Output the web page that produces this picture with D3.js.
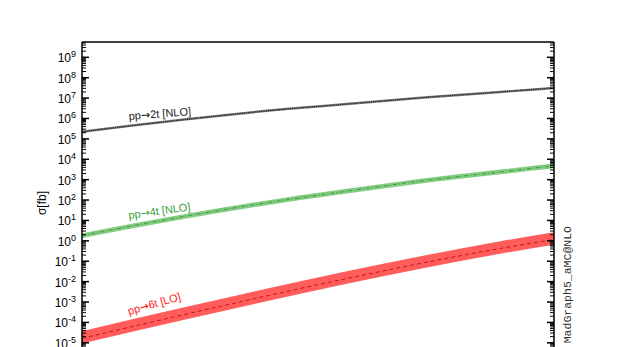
<!DOCTYPE html>
<html>
<head>
<meta charset="utf-8">
<script src="https://cdn.jsdelivr.net/npm/d3@7"></script>
<style>
  body { margin: 0; background: #fff; }
  text { font-family: "Liberation Sans", Arial, sans-serif; }
  text.mono { font-family: "Liberation Mono", "DejaVu Sans Mono", monospace; }
  tspan.arrow { font-family: "DejaVu Sans", sans-serif; }
</style>
</head>
<body>
<svg id="chart" width="634" height="347"></svg>
<script>
// collider energy sqrt(s) in TeV (x axis is off the visible area)
const energies = [8, 14, 20, 33, 50, 75, 100];

// cross sections in fb: central, upper, lower
const xs2t = [2.24e5, 9.1e5, 2.04e6, 5.1e6, 1.07e7, 2.0e7, 3.16e7];
const up2t = [1.15, 1.15, 1.15, 1.15, 1.15, 1.15, 1.15];
const dn2t = [0.87, 0.87, 0.87, 0.87, 0.87, 0.87, 0.87];

const xs4t = [1.82, 16.6, 58, 274, 906, 2400, 4790];
const up4t = [1.3, 1.3, 1.3, 1.3, 1.3, 1.3, 1.3];
const dn4t = [0.76, 0.76, 0.76, 0.76, 0.76, 0.76, 0.76];

const xs6t = [1.66e-5, 2.58e-4, 1.42e-3, 1.42e-2, 8.5e-2, 0.423, 1.18];
const up6t = [2.25, 2.25, 2.25, 2.25, 2.25, 2.25, 2.25];
const dn6t = [0.55, 0.55, 0.55, 0.55, 0.55, 0.55, 0.55];

const exponents = [-5, -4, -3, -2, -1, 0, 1, 2, 3, 4, 5, 6, 7, 8, 9];

var svg = d3.select("#chart");
var mLeft = 82, mRight = 554, mTop = 42, mBottom = 363.2;

var x = d3.scaleLog().domain([8, 100]).range([mLeft, mRight]);
var y = d3.scaleLog().domain([1e-6, Math.pow(10, 9.75)]).range([mBottom, mTop]);

svg.append("clipPath").attr("id", "clip")
    .append("rect").attr("x", mLeft).attr("y", mTop)
    .attr("width", mRight - mLeft).attr("height", mBottom - mTop);

var plot = svg.append("g").attr("clip-path", "url(#clip)");

function band(xs, up, dn, fill, lineColor, dash, lineWidth) {
    var pts = energies.map(function(e, i) {
        return { e: e, c: xs[i], hi: xs[i] * up[i], lo: xs[i] * dn[i] };
    });
    var area = d3.area()
        .x(function(d) { return x(d.e); })
        .y0(function(d) { return y(d.lo); })
        .y1(function(d) { return y(d.hi); })
        .curve(d3.curveMonotoneX);
    var line = d3.line()
        .x(function(d) { return x(d.e); })
        .y(function(d) { return y(d.c); })
        .curve(d3.curveMonotoneX);
    plot.append("path").datum(pts)
        .attr("d", area).attr("fill", fill);
    plot.append("path").datum(pts)
        .attr("d", line).attr("fill", "none")
        .attr("stroke", lineColor).attr("stroke-width", lineWidth)
        .attr("stroke-dasharray", dash);
}

band(xs2t, up2t, dn2t, "#7a7a7a", "#222", "1.2,1", 1.2);
band(xs4t, up4t, dn4t, "#84cc84", "#3a9a3a", "4,2,1,2", 1);
band(xs6t, up6t, dn6t, "#ff5c5c", "#d01010", "4,3", 1);

// frame
svg.append("line").attr("x1", mLeft).attr("x2", mRight).attr("y1", mTop).attr("y2", mTop)
    .attr("stroke", "#000").attr("stroke-width", 1.5);
[mLeft, mRight].forEach(function(px) {
    svg.append("line").attr("x1", px).attr("x2", px).attr("y1", mTop).attr("y2", mBottom)
        .attr("stroke", "#000").attr("stroke-width", 1.5);
});

// ticks on both vertical sides, pointing inward
var minor = [];
exponents.concat([-6]).forEach(function(p) {
    for (var k = 2; k <= 9; k++) minor.push(k * Math.pow(10, p));
});
minor = minor.filter(function(v) { return y(v) > mTop + 1; });

var ticks = svg.append("g");
minor.forEach(function(v) {
    ticks.append("line").attr("x1", mLeft).attr("x2", mLeft + 4)
        .attr("y1", y(v)).attr("y2", y(v)).attr("stroke", "#000").attr("stroke-width", 1);
    ticks.append("line").attr("x1", mRight).attr("x2", mRight - 4)
        .attr("y1", y(v)).attr("y2", y(v)).attr("stroke", "#000").attr("stroke-width", 1);
});
exponents.forEach(function(p) {
    var v = Math.pow(10, p);
    ticks.append("line").attr("x1", mLeft).attr("x2", mLeft + 7)
        .attr("y1", y(v)).attr("y2", y(v)).attr("stroke", "#000").attr("stroke-width", 1.5);
    ticks.append("line").attr("x1", mRight).attr("x2", mRight - 7)
        .attr("y1", y(v)).attr("y2", y(v)).attr("stroke", "#000").attr("stroke-width", 1.5);
});

// tick labels 10^n
var labels = svg.append("g");
exponents.forEach(function(p) {
    var t = labels.append("text")
        .attr("x", 76).attr("y", y(Math.pow(10, p)) + 5)
        .attr("text-anchor", "end").attr("font-size", 12).attr("fill", "#000");
    t.append("tspan").text("10");
    t.append("tspan").attr("dy", -5).attr("font-size", 9).text(p);
});

svg.append("text")
    .attr("transform", "translate(46,203) rotate(-90)")
    .attr("text-anchor", "middle").attr("font-size", 12)
    .text("σ[fb]");

// process labels
function procLabel(proc, tail, px, py, angle, color) {
    var t = svg.append("text")
        .attr("transform", "translate(" + px + "," + py + ") rotate(" + angle + ")")
        .attr("font-size", 11).attr("fill", color);
    t.append("tspan").text("pp");
    t.append("tspan").attr("class", "arrow").text("\u2192");
    t.append("tspan").text(proc + " " + tail);
}
procLabel("2t", "[NLO]", 129, 120, -4.5, "#222");
procLabel("4t", "[NLO]", 129, 219, -8, "#35a035");
procLabel("6t", "[LO]", 129, 315, -16, "#ff2020");

svg.append("text")
    .attr("class", "mono")
    .attr("transform", "translate(570.5,226) rotate(-90)")
    .attr("text-anchor", "end")
    .attr("font-size", 11.5).attr("fill", "#333")
    .text("MadGraph5_aMC@NLO");
</script>
</body>
</html>
